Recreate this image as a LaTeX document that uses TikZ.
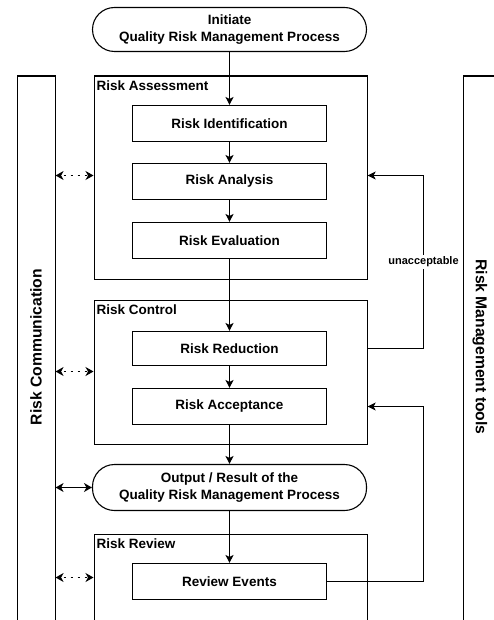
\documentclass[tikz,border=0pt]{standalone}
\usepackage{fontspec}
\setmainfont{Liberation Sans}
\usetikzlibrary{arrows.meta,calc}
\begin{document}
\begin{tikzpicture}[x=1pt,y=-1pt,
  font=\bfseries\fontsize{13.5}{17}\selectfont,
  line width=1.1pt,
  procbox/.style={draw,minimum width=194pt,minimum height=36pt,inner sep=0pt},
  termbox/.style={draw,rounded corners=22pt,minimum width=274pt,minimum height=44pt,inner sep=0pt,align=center},
  groupbox/.style={draw,inner sep=0pt},
  grouplabel/.style={anchor=north west,inner sep=0pt},
  flow/.style={-{Stealth[length=8pt,width=8pt,inset=2pt]}},
  dotarrow/.style={{Stealth[length=8pt,width=9pt,inset=2.5pt]}-{Stealth[length=8pt,width=9pt,inset=2.5pt]},dash pattern=on 2pt off 5pt,dash phase=-3pt},
  solidarrow/.style={{Stealth[length=8pt,width=9pt,inset=2.5pt]}-{Stealth[length=8pt,width=9pt,inset=2.5pt]}},
  sidelabel/.style={font=\bfseries\fontsize{15.7}{18}\selectfont,inner sep=0pt}
]
\clip (0,0) rectangle (494,620);
\fill[white] (0,0) rectangle (494,620);

% side columns
\node[groupbox,minimum width=38pt,minimum height=560pt,anchor=north west] (comm) at (16.5,75.5) {};
\node[groupbox,minimum width=60pt,minimum height=560pt,anchor=north west] (tools) at (462.5,75.5) {};
\node[sidelabel,rotate=90] (commlbl) at (36,347) {Risk Communication};
\node[sidelabel,rotate=-90] (toolslbl) at (480,347) {Risk Management tools};

% group boxes
\node[groupbox,minimum width=273pt,minimum height=203pt,anchor=north west] (ra) at (93.5,75.5) {};
\node[grouplabel] (ralbl) at (96,80) {Risk Assessment};
\node[groupbox,minimum width=273pt,minimum height=144pt,anchor=north west] (rc) at (93.5,299.5) {};
\node[grouplabel] (rclbl) at (96,304) {Risk Control};
\node[groupbox,minimum width=273pt,minimum height=120pt,anchor=north west] (rr) at (93.5,533.5) {};
\node[grouplabel] (rrlbl) at (96,538) {Risk Review};

% terminals
\node[termbox] (init) at (229.5,29.5) {Initiate\\Quality Risk Management Process};
\node[termbox,minimum height=46pt] (out) at (229.5,487.5) {Output / Result of the\\Quality Risk Management Process};

% process boxes
\node[procbox] (ident) at (229.5,123.5) {Risk Identification};
\node[procbox] (anal) at (229.5,181.5) {Risk Analysis};
\node[procbox] (eval) at (229.5,240.5) {Risk Evaluation};
\node[procbox,minimum height=34pt] (red) at (229.5,348.5) {Risk Reduction};
\node[procbox] (acc) at (229.5,406.5) {Risk Acceptance};
\node[procbox] (rev) at (229.5,581.5) {Review Events};

% main flow
\draw[flow] (init) -- (ident);
\draw[flow] (ident) -- (anal);
\draw[flow] (anal) -- (eval);
\draw[flow] (eval) -- (red);
\draw[flow] (red) -- (acc);
\draw[flow] (acc) -- (out);
\draw[flow] (out) -- (rev);

% feedback loops
\coordinate (fb1s) at (rc.east |- red);
\coordinate (fb1e) at ($(ra.east |- anal)+(0,-6)$);
\draw[flow] (fb1s) -- (423.5,348.5) -- (423.5,175.5) -- (fb1e);
\node[fill=white,inner sep=1.5pt,font=\bfseries\fontsize{11}{13}\selectfont] (unacc) at (423.5,262) {unacceptable};
\coordinate (fb2e) at (rc.east |- acc);
\draw[flow] (rev.east) -- (423.5,581.5) -- (423.5,406.5) -- (fb2e);

% communication arrows
\draw[dotarrow] (comm.east |- 0,175.5) -- (ra.west |- 0,175.5);
\draw[dotarrow] (comm.east |- 0,371.5) -- (rc.west |- 0,371.5);
\draw[solidarrow] (comm.east |- out) -- (out.west);
\draw[dotarrow] (comm.east |- 0,577.5) -- (rr.west |- 0,577.5);
\end{tikzpicture}
\end{document}
